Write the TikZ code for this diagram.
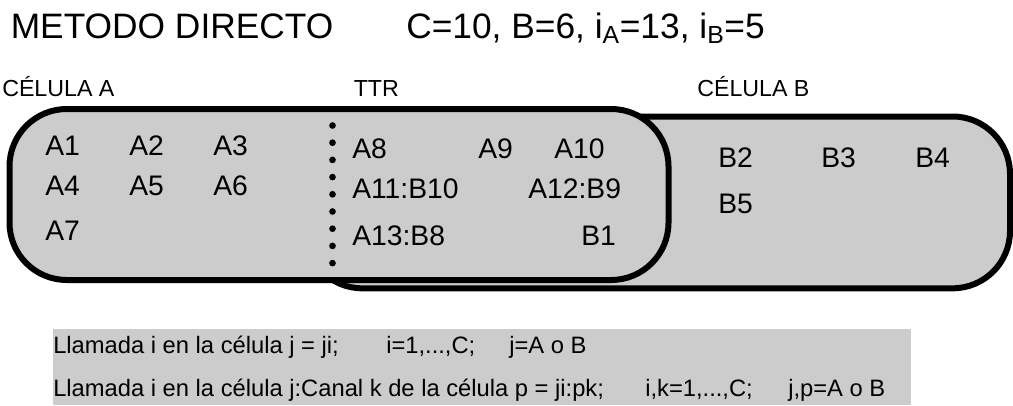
\documentclass[tikz,border=0pt]{standalone}
\usepackage{fontspec}
\setmainfont{Liberation Sans}
\definecolor{cellgray}{HTML}{CCCCCC}
\begin{document}
\begin{tikzpicture}[x=0.75pt,y=-0.75pt,
  cell/.style={draw=black, fill=cellgray, line width=4.5pt, rounded corners=43pt},
  heading/.style={anchor=base west, inner sep=0pt, font=\fontsize{26.5}{30}\selectfont},
  zone/.style={anchor=base west, inner sep=0pt, font=\fontsize{17.4}{20}\selectfont},
  chan/.style={anchor=base west, inner sep=0pt, font=\fontsize{21.2}{24}\selectfont},
  legend/.style={anchor=base west, inner sep=0pt, font=\fontsize{17.8}{21}\selectfont},
  dot/.style={circle, fill=black, inner sep=0pt, minimum size=5pt}]
\useasboundingbox (0,0) rectangle (1013,405);

% headings
\node[heading] (title) at (10.5,38.3) {METODO DIRECTO};
\node[heading] (params) at (406,38.3) {C=10, B=6, i\textsubscript{A}=13, i\textsubscript{B}=5};

% zone labels
\node[zone] (labA) at (2,96) {CÉLULA A};
\node[zone] (labT) at (353.5,96) {TTR};
\node[zone] (labB) at (697,96) {CÉLULA B};

% cell B lies behind cell A
\draw[cell] (305,116.5) rectangle (1010,288.3);
\draw[cell] (9.5,109) rectangle (668.5,280);

% boundary of the transfer region
\foreach \k in {0,...,8}
  \node[dot] (d\k) at (332.5,{125.5+17.2*\k}) {};

% channels of cell A
\node[chan] (a1) at (45,155) {A1};
\node[chan] (a2) at (129,155) {A2};
\node[chan] (a3) at (213,155) {A3};
\node[chan] (a4) at (45,195) {A4};
\node[chan] (a5) at (129,195) {A5};
\node[chan] (a6) at (213,195) {A6};
\node[chan] (a7) at (45,240) {A7};

% channels in the transfer region
\node[chan] (a8) at (352,158) {A8};
\node[chan] (a9) at (478,158) {A9};
\node[chan] (a10) at (554,158) {A10};
\node[chan] (a11) at (352,198) {A11:B10};
\node[chan] (a12) at (528,198) {A12:B9};
\node[chan] (a13) at (352,245) {A13:B8};
\node[chan] (b1) at (581,245) {B1};

% channels of cell B
\node[chan] (b2) at (718,167) {B2};
\node[chan] (b3) at (821,167) {B3};
\node[chan] (b4) at (915,167) {B4};
\node[chan] (b5) at (718,213) {B5};

% legend
\fill[cellgray] (53,329) rectangle (911,405);
\node[legend] (l1a) at (53,353.5) {Llamada i en la célula j = ji;};
\node[legend] (l1b) at (386,353.5) {i=1,...,C;};
\node[legend] (l1c) at (509,353.5) {j=A o B};
\node[legend] (l2a) at (53,396) {Llamada i en la célula j:Canal k de la célula p = ji:pk;};
\node[legend] (l2b) at (645,396) {i,k=1,...,C;};
\node[legend] (l2c) at (788,396) {j,p=A o B};
\end{tikzpicture}
\end{document}
